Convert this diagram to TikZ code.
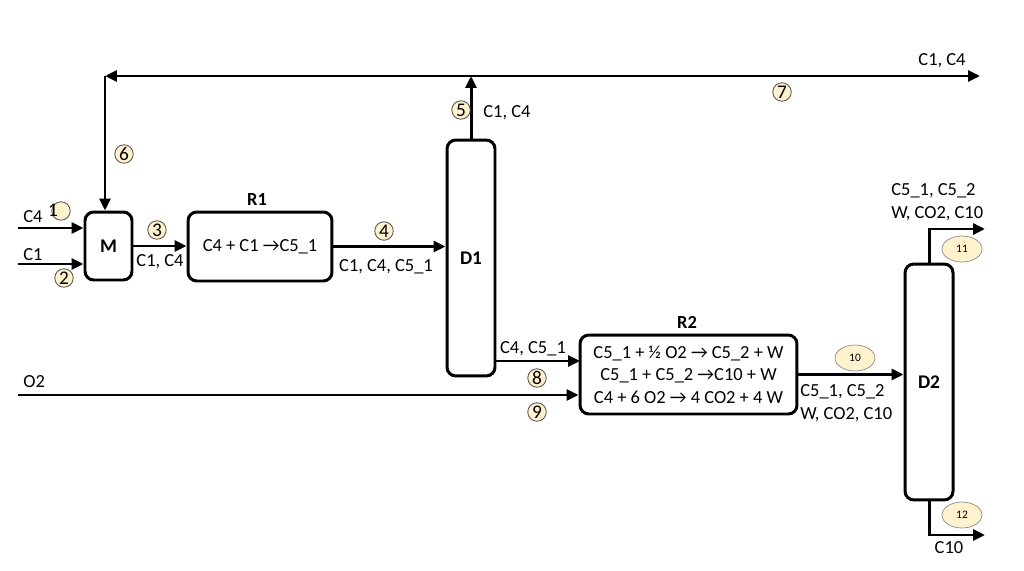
\documentclass[tikz,border=0pt]{standalone}
\usepackage{fontspec}
\setmainfont{Carlito}
\usetikzlibrary{arrows.meta,positioning,shapes.geometric}
\definecolor{tagfill}{HTML}{FFF2CC}
\definecolor{tagline}{HTML}{595959}

\tikzset{
  unit/.style={draw, line width=1.7pt, rounded corners=5pt, align=center,
    inner sep=0pt, font=\fontsize{10.5}{12.8}\selectfont},
  column/.style={unit, minimum width=0.96cm, minimum height=4.72cm,
    font=\bfseries\fontsize{11}{12.8}\selectfont},
  flow/.style={line width=1.7pt, -{Triangle[length=2.4mm,width=2.2mm]}},
  stream/.style={inner sep=0pt, align=left, font=\fontsize{10.5}{12.8}\selectfont},
  title/.style={inner sep=0pt, font=\bfseries\fontsize{10.5}{12.8}\selectfont},
  num/.style={circle, draw=tagline, fill=tagfill, line width=0.5pt, inner sep=0pt,
    minimum size=0.37cm, font=\fontsize{11}{12}\selectfont},
  numoval/.style={ellipse, draw=tagline!70, fill=tagfill, line width=0.4pt, inner sep=0pt,
    minimum width=0.8cm, minimum height=0.52cm, font=\fontsize{6.5}{7}\selectfont}
}

\begin{document}
\begin{tikzpicture}[x=0.02cm, y=-0.02cm]
  \useasboundingbox (0,0) rectangle (1024,571);

  % units
  \node[unit, minimum width=0.94cm, minimum height=1.36cm, font=\bfseries\fontsize{11}{12.8}\selectfont] (M) at (108.5,246) {M};
  \node[unit, minimum width=2.88cm, minimum height=1.38cm] (R1) at (260,246.5) {C4 + C1 →C5\_1};
  \node[column] (D1) at (471,258) {D1};
  \node[unit, minimum width=4.34cm, minimum height=1.58cm] (R2) at (688.5,374.5)
    {C5\_1 + ½ O2 → C5\_2 + W\\C5\_1 + C5\_2 →C10 + W\\C4 + 6 O2 → 4 CO2 + 4 W};
  \node[column] (D2) at (929,382) {D2};

  \node[title] (t1) at (257,200) {R1};
  \node[title] (t2) at (687,322) {R2};

  % free ends
  \coordinate (in1) at (18,228);
  \coordinate (in2) at (18,264);
  \coordinate (in9) at (18,395);
  \coordinate (ret) at (105,76);
  \coordinate (out7) at (980,76);
  \coordinate (r2in) at (580,361);
  \coordinate (out11) at (985,229);
  \coordinate (out12) at (985,535);

  % streams
  \draw[flow] (in1) -- (in1 -| M.west);
  \draw[flow] (in2) -- (in2 -| M.west);
  \draw[flow] (M.east) -- (M.east -| R1.west);
  \draw[flow] (R1.east) -- (R1.east -| D1.west);
  \draw[flow] (D1.north) -- (D1.north |- ret);
  \draw[line width=1.7pt, {Triangle[length=2.4mm,width=2.2mm]}-{Triangle[length=2.4mm,width=2.2mm]}] (ret) -- (out7);
  \draw[flow] (ret) -- (ret |- M.north);
  \draw[flow] (r2in -| D1.east) -- (r2in);
  \draw[flow] (in9) -- (in9 -| R2.west);
  \draw[flow] (R2.east) -- (R2.east -| D2.west);
  \draw[flow] (D2.north) |- (out11);
  \draw[flow] (D2.south) |- (out12);

  % stream texts
  \node[stream, anchor=west] (l1) at (23,217) {C4};
  \node[stream, anchor=west] (l2) at (23,255) {C1};
  \node[stream] (l3) at (160,262) {C1, C4};
  \node[stream] (l4) at (386,267) {C1, C4, C5\_1};
  \node[stream, anchor=west] (l5) at (483,113) {C1, C4};
  \node[stream] (l7) at (942,61) {C1, C4};
  \node[stream] (l8) at (533,349) {C4, C5\_1};
  \node[stream, anchor=west] (l9) at (23,382) {O2};
  \node[stream, anchor=west] (l10) at (800,403) {C5\_1, C5\_2\\W, CO2, C10};
  \node[stream, anchor=west] (l11) at (891,202) {C5\_1, C5\_2\\W, CO2, C10};
  \node[stream] (l12) at (949,548) {C10};

  % stream numbers
  \node[num] (n1) at (61,211) {};
  \node[inner sep=0pt, font=\fontsize{11}{12}\selectfont] (n1t) at (53,210) {1};
  \node[num] (n2) at (64,278) {2};
  \node[num] (n3) at (157,230) {3};
  \node[num] (n4) at (384,231) {4};
  \node[num] (n5) at (461,110) {5};
  \node[num] (n6) at (124,154) {6};
  \node[num] (n7) at (782,92) {7};
  \node[num] (n8) at (537,378) {8};
  \node[num] (n9) at (537,412) {9};
  \node[numoval] (n10) at (855,358) {10};
  \node[numoval] (n11) at (962,249) {11};
  \node[numoval] (n12) at (962,515) {12};
\end{tikzpicture}
\end{document}
